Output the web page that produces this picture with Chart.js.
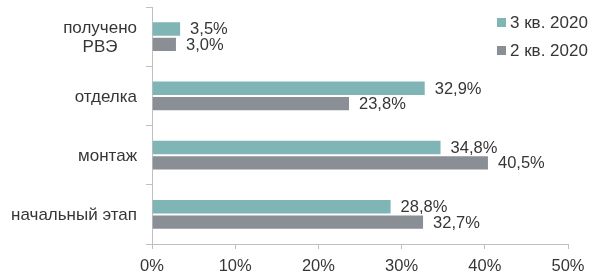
<!DOCTYPE html>
<html>
<head>
<meta charset="utf-8">
<script src="https://cdn.jsdelivr.net/npm/chart.js@4"></script>
<style>
html,body{margin:0;padding:0;background:#fff;}
#wrap{width:606px;height:280px;position:relative;}
</style>
</head>
<body>
<div id="wrap"><canvas id="c" width="606" height="280"></canvas></div>
<script>
const categories = [["получено", "РВЭ"], "отделка", "монтаж", "начальный этап"];
const seriesNames = ["3 кв. 2020", "2 кв. 2020"];
const q3Values = [3.5, 32.9, 34.8, 28.8];
const q2Values = [3.0, 23.8, 40.5, 32.7];
const xTicks = [0, 10, 20, 30, 40, 50];

const TEXT = '#363636';
const FONT = '"Liberation Sans", Arial, sans-serif';
const colors = ['#80b5b6', '#8a8f96'];

const fmt = v => v.toFixed(1).replace('.', ',') + '%';

const dataLabels = {
  id: 'dataLabels',
  afterDatasetsDraw(chart) {
    const ctx = chart.ctx;
    ctx.save();
    ctx.font = '16.5px ' + FONT;
    ctx.fillStyle = TEXT;
    ctx.textBaseline = 'middle';
    ctx.textAlign = 'left';
    chart.data.datasets.forEach((ds, i) => {
      const meta = chart.getDatasetMeta(i);
      meta.data.forEach((el, j) => {
        ctx.fillText(fmt(ds.data[j]), el.x + 9, el.y + 1);
      });
    });
    ctx.restore();
  }
};

// category labels: multi-line labels centred on each other, right edge near the axis
const categoryLabels = {
  id: 'categoryLabels',
  afterDraw(chart) {
    const ctx = chart.ctx;
    const scale = chart.scales.y;
    const lh = 19;
    ctx.save();
    ctx.font = '17px ' + FONT;
    ctx.fillStyle = TEXT;
    ctx.textBaseline = 'middle';
    ctx.textAlign = 'center';
    chart.data.labels.forEach((lab, i) => {
      const lines = Array.isArray(lab) ? lab : [lab];
      const w = Math.max(...lines.map(l => ctx.measureText(l).width));
      const cx = scale.right - 15 - w / 2;
      const cy = scale.getPixelForTick(i);
      lines.forEach((l, k) => {
        ctx.fillText(l, cx, cy + 1 + (k - (lines.length - 1) / 2) * lh);
      });
    });
    ctx.restore();
  }
};

const customLegend = {
  id: 'customLegend',
  afterDraw(chart) {
    const ctx = chart.ctx;
    ctx.save();
    ctx.font = '17px ' + FONT;
    ctx.textBaseline = 'middle';
    ctx.textAlign = 'left';
    chart.data.datasets.forEach((ds, i) => {
      const y = 22 + i * 28;
      ctx.fillStyle = ds.backgroundColor;
      ctx.fillRect(497, y - 4, 9, 9);
      ctx.fillStyle = TEXT;
      ctx.fillText(ds.label, 510, y + 1);
    });
    ctx.restore();
  }
};

new Chart(document.getElementById('c'), {
  type: 'bar',
  data: {
    labels: categories,
    datasets: [
      { label: seriesNames[0], data: q3Values, backgroundColor: colors[0], borderColor: 'rgba(255,255,255,0.45)', borderWidth: 1, categoryPercentage: 0.52, barPercentage: 1.0 },
      { label: seriesNames[1], data: q2Values, backgroundColor: colors[1], borderColor: 'rgba(255,255,255,0.45)', borderWidth: 1, categoryPercentage: 0.52, barPercentage: 1.0 }
    ]
  },
  options: {
    indexAxis: 'y',
    responsive: false,
    animation: false,
    devicePixelRatio: 1,
    layout: { padding: { top: 7, right: 38, bottom: 0, left: 0 } },
    plugins: { legend: { display: false }, tooltip: { enabled: false } },
    scales: {
      x: {
        min: 0, max: 50,
        afterBuildTicks(scale) { scale.ticks = xTicks.map(v => ({ value: v })); },
        afterFit(scale) { scale.height = 36; },
        ticks: { color: TEXT, font: { family: FONT, size: 16.5 }, padding: 8, callback: v => v + '%' },
        grid: { drawOnChartArea: false, tickLength: 5, color: '#bfbfbf' },
        border: { color: '#bfbfbf', width: 1 }
      },
      y: {
        afterFit(scale) { scale.width = 152; },
        ticks: { display: false },
        grid: { drawOnChartArea: false, offset: true, tickLength: 6, color: '#bfbfbf' },
        border: { color: '#bfbfbf', width: 1 }
      }
    }
  },
  plugins: [dataLabels, categoryLabels, customLegend]
});
</script>
</body>
</html>
